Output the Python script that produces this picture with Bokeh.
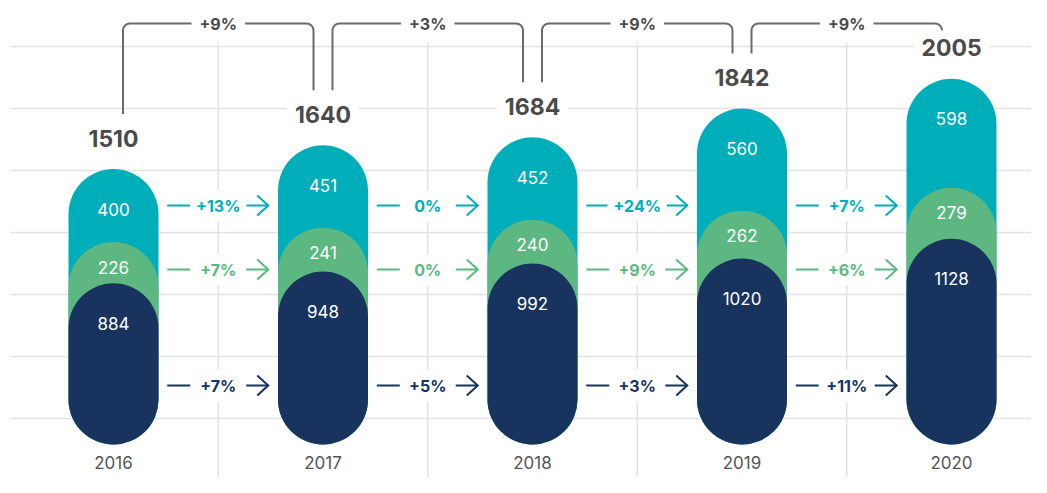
import numpy as np
from bokeh.plotting import figure
from bokeh.models import Range1d
from bokeh.core.properties import value
from bokeh.embed import file_html
from bokeh.resources import INLINE

# ---------------- data ----------------
years = ["2016", "2017", "2018", "2019", "2020"]
dark = [884, 948, 992, 1020, 1128]
green = [226, 241, 240, 262, 279]
teal = [400, 451, 452, 560, 598]
totals = [1510, 1640, 1684, 1842, 2005]
total_growth = ["+9%", "+3%", "+9%", "+9%"]
teal_growth = ["+13%", "0%", "+24%", "+7%"]
green_growth = ["+7%", "0%", "+9%", "+6%"]
dark_growth = ["+7%", "+5%", "+3%", "+11%"]

# ---------------- style ----------------
TEAL = "#00AEB9"
GREEN = "#5CB880"
NAVY = "#17335E"
GRAY = "#4A4A4A"
YEARGRAY = "#555555"
GRID = "#E2E2E2"
BRACKET = "#6A6A6A"
FONT = value("Inter")

W, H = 1031, 477
PXX = 209.5      # px per category
PXY = 0.1824     # px per unit
X0 = 113         # canvas x of first category
Y0 = 444         # canvas y of value 0


def dx(px):
    return px / PXX


def dy(px):
    return px / PXY


def xv(canvas_px):
    return (canvas_px - X0) / PXX


def yv(canvas_px):
    return (Y0 - canvas_px) / PXY


p = figure(width=W, height=H, output_backend="svg", toolbar_location=None,
           x_range=Range1d(xv(0), xv(W)),
           y_range=Range1d(yv(H), yv(0)),
           x_axis_location=None, y_axis_location=None,
           min_border=0, outline_line_color=None,
           background_fill_color="white", border_fill_color="white")
p.xgrid.visible = False
p.ygrid.visible = False

x = np.arange(len(years))
mids = x[:-1] + 0.5

# horizontal grid lines
gy = [yv(46 + 62 * k) for k in range(7)]
p.segment(x0=[xv(10)] * len(gy), x1=[xv(W + 5)] * len(gy), y0=gy, y1=gy,
          line_color=GRID, line_width=1.5)
# vertical separators
p.segment(x0=mids, x1=mids, y0=yv(H + 10), y1=yv(42), line_color=GRID, line_width=1.5)

# pills
cum_green = [d + g for d, g in zip(dark, green)]
bw = dx(90)
p.vbar(x=x, width=bw, bottom=0, top=totals, fill_color=TEAL, line_color=None, border_radius=45)
p.vbar(x=x, width=bw, bottom=0, top=cum_green, fill_color=GREEN, line_color=None, border_radius=45)
p.vbar(x=x, width=bw, bottom=0, top=dark, fill_color=NAVY, line_color=None, border_radius=45)

# segment labels
common_white = dict(text_color="white", text_font=FONT, text_font_size="17px",
                    text_align="center", text_baseline="middle")
p.text(x=x, y=totals, text=[str(v) for v in teal], y_offset=40, **common_white)
p.text(x=x, y=cum_green, text=[str(v) for v in green], y_offset=25, **common_white)
p.text(x=x, y=dark, text=[str(v) for v in dark], y_offset=40, **common_white)

# totals
p.text(x=x, y=totals, text=[str(v) for v in totals], y_offset=-31,
       text_color=GRAY, text_font=FONT, text_font_size="23px", text_font_style="bold",
       text_align="center", text_baseline="middle",
       background_fill_color="white", padding=8)

# years
p.text(x=x, y=yv(H - 15), text=years, text_color=YEARGRAY, text_font=FONT,
       text_font_size="17px", text_align="center", text_baseline="middle")

# growth arrows
rows = [(teal_growth, TEAL, 205), (green_growth, GREEN, 269), (dark_growth, NAVY, 385)]
for labels, col, py in rows:
    yy = yv(py)
    ys = [yy] * len(mids)
    p.segment(x0=mids - dx(51), x1=mids - dx(28), y0=ys, y1=ys, line_color=col, line_width=2)
    xe = mids + dx(50)
    p.segment(x0=mids + dx(28), x1=xe, y0=ys, y1=ys, line_color=col, line_width=2)
    p.multi_line(xs=[[e - dx(11), e, e - dx(11)] for e in xe],
                 ys=[[yy + dy(10), yy, yy - dy(10)] for _ in xe],
                 line_color=col, line_width=2, line_join="miter")
    p.text(x=mids, y=ys, text=labels, text_color=col, text_font=FONT,
           text_font_size="16px", text_font_style="bold",
           text_align="center", text_baseline="middle",
           background_fill_color="white", padding=6)

# brackets for total growth
BY = yv(23)
r = 7
t1 = np.linspace(np.pi, np.pi / 2, 8)
t2 = np.linspace(np.pi / 2, 0, 8)
bxs, bys = [], []
for i in range(len(mids)):
    xl = x[i] + dx(9.5)
    xr = x[i + 1] - dx(9.5)
    bl = min(totals[i] + dy(55), BY - dy(r))
    br = min(totals[i + 1] + dy(55), BY - dy(r))
    cxl, cxr, cy = xl + dx(r), xr - dx(r), BY - dy(r)
    px_ = [xl] + list(cxl + dx(r) * np.cos(t1)) + list(cxr + dx(r) * np.cos(t2)) + [xr]
    py_ = [bl] + list(cy + dy(r) * np.sin(t1)) + list(cy + dy(r) * np.sin(t2)) + [br]
    bxs.append(px_)
    bys.append(py_)
p.multi_line(xs=bxs, ys=bys, line_color=BRACKET, line_width=2)
p.text(x=mids, y=[BY] * len(mids), text=total_growth, text_color=GRAY, text_font=FONT,
       text_font_size="16px", text_font_style="bold",
       text_align="center", text_baseline="middle",
       background_fill_color="white", padding=8)

open("out.html", "w").write(file_html(p, INLINE))
